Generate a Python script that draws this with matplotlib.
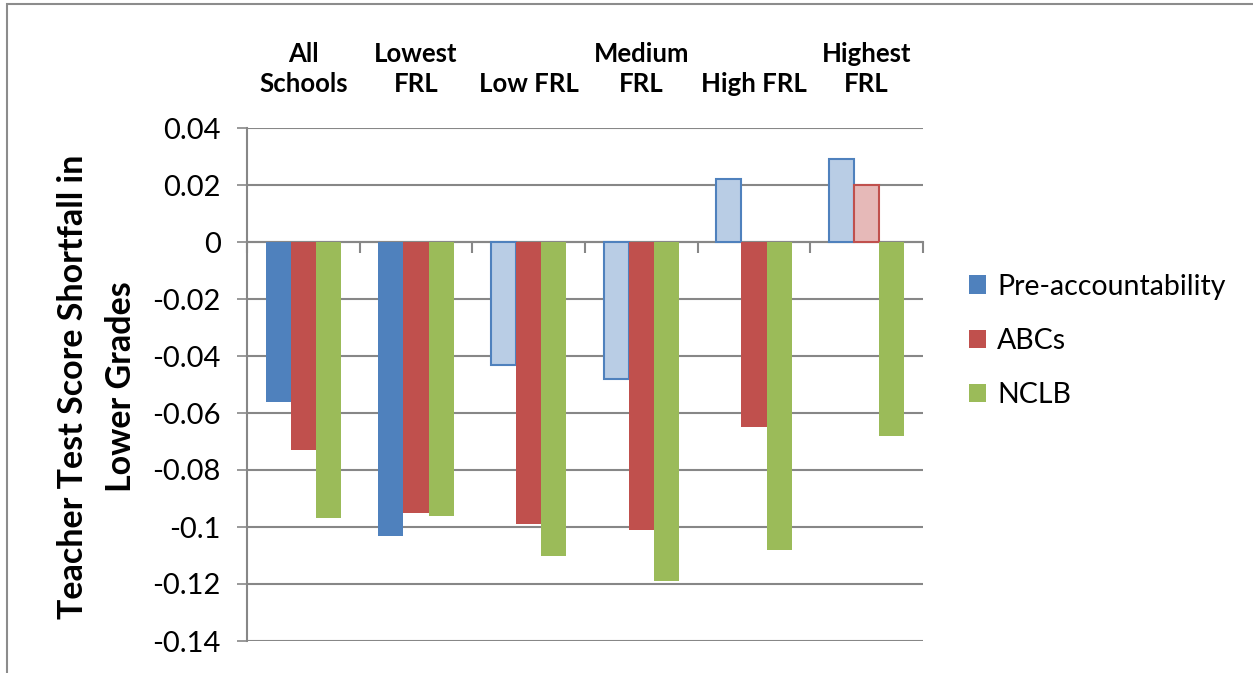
import matplotlib
matplotlib.use("Agg")
import matplotlib.pyplot as plt
import matplotlib.patches as mpatches
from matplotlib.transforms import blended_transform_factory
import numpy as np

# ── Data ──────────────────────────────────────────────────────────────────────
groups = ["All\nSchools", "Lowest\nFRL", "Low FRL", "Medium\nFRL", "High FRL", "Highest\nFRL"]
series = ["Pre-accountability", "ABCs", "NCLB"]
pre_acc = [-0.056, -0.103, -0.043, -0.048, 0.022, 0.029]
abcs    = [-0.073, -0.095, -0.099, -0.101, -0.065, 0.020]
nclb    = [-0.097, -0.096, -0.110, -0.119, -0.108, -0.068]
# False = estimate not significant (drawn in a pale fill)
pre_sig  = [True, True, False, False, False, False]
abcs_sig = [True, True, True, True, True, False]
nclb_sig = [True, True, True, True, True, True]

yticks = [0.04, 0.02, 0, -0.02, -0.04, -0.06, -0.08, -0.1, -0.12, -0.14]
ytick_labels = ["0.04", "0.02", "0", "-0.02", "-0.04", "-0.06", "-0.08", "-0.1", "-0.12", "-0.14"]

# Office 2007 palette
C_DARK = ["#4F81BD", "#C0504D", "#9BBB59"]
C_LIGHT = ["#B9CDE5", "#E6B9B8", "#D7E4BD"]
GRID = "#878787"

plt.rcParams["font.family"] = ["Lato", "DejaVu Sans"]

fig = plt.figure(figsize=(12.53, 6.73), dpi=100)
ax = fig.add_axes([247 / 1253, 32 / 673, 676 / 1253, 513 / 673])

x = np.arange(len(groups))
bw = 1 / 4.5
for i, (vals, sig) in enumerate([(pre_acc, pre_sig), (abcs, abcs_sig), (nclb, nclb_sig)]):
    for xi, v, s in zip(x, vals, sig):
        if s:
            ax.bar(xi + (i - 1) * bw, v, bw, color=C_DARK[i], edgecolor="none", zorder=3)
        else:
            ax.bar(xi + (i - 1) * bw, v, bw, color=C_LIGHT[i], edgecolor=C_DARK[i],
                   linewidth=1.5, zorder=3)

ax.set_xlim(-0.5, len(groups) - 0.5)
ax.set_ylim(-0.14, 0.04)
ax.set_yticks(yticks)
ax.set_yticklabels(ytick_labels, fontsize=21)
ax.yaxis.grid(True, color=GRID, linewidth=1.5)
ax.set_axisbelow(True)
ax.tick_params(axis="y", length=7, width=1.2, color=GRID, pad=12, labelcolor="black")

# category axis sits on zero with ticks at group boundaries
ax.spines["bottom"].set_position(("data", 0))
ax.spines["bottom"].set_color(GRID)
ax.spines["bottom"].set_linewidth(1.5)
ax.spines["left"].set_color(GRID)
ax.spines["left"].set_linewidth(1.5)
ax.spines["top"].set_visible(False)
ax.spines["right"].set_visible(False)
ax.set_xticks(np.arange(-0.5, len(groups) + 0.5, 1.0))
ax.set_xticklabels([])
ax.tick_params(axis="x", direction="out", length=8, width=1.5, color=GRID)

# group names above the plot
trans = blended_transform_factory(ax.transData, ax.transAxes)
for xi, g in zip(x, groups):
    ax.text(xi, 1.062, g, transform=trans, ha="center", va="bottom",
            fontsize=18.5, fontweight="bold", linespacing=1.3)

fig.text(97 / 1253, 0.425, "Teacher Test Score Shortfall in\nLower Grades",
         rotation=90, ha="center", va="center", fontsize=24.5, fontweight="bold",
         multialignment="center", linespacing=1.65)

handles = [mpatches.Patch(facecolor=c, label=s) for c, s in zip(C_DARK, series)]
fig.legend(handles=handles, loc="center left", bbox_to_anchor=(943 / 1253, 332 / 673),
           frameon=False, fontsize=20.5, handlelength=0.6, handleheight=0.6,
           handletextpad=0.4, labelspacing=1.0)

# outer chart frame
fig.patches.append(mpatches.Rectangle((7 / 1253, -0.1), 1.2, 1.094, transform=fig.transFigure,
                                      fill=False, edgecolor="#8C8C8C", linewidth=1.5))

plt.savefig("out.png", dpi=100)
